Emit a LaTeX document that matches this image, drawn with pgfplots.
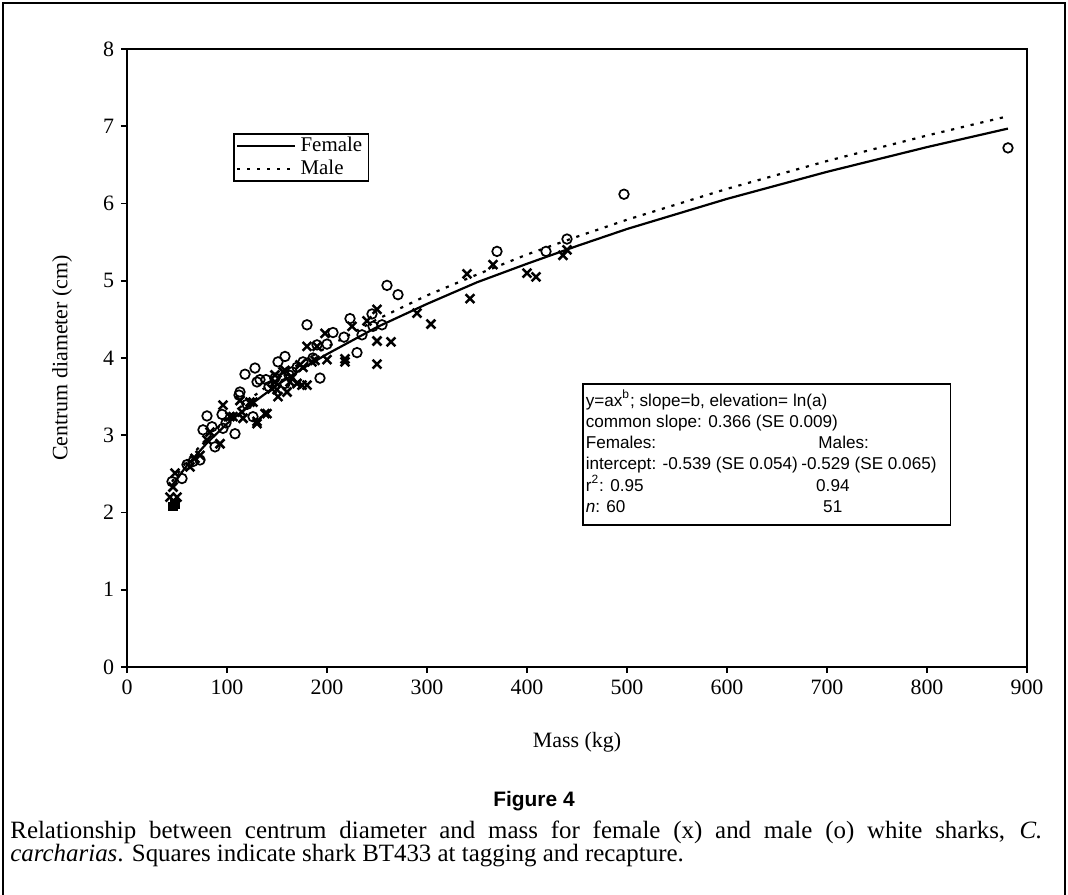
\documentclass[border=0pt]{standalone}
\usepackage{pgfplots}
\pgfplotsset{compat=1.18}
\usepackage{pgfplotstable}
\usepackage{fontspec}
\setmainfont{Liberation Serif}
\setsansfont{Liberation Sans}

\pgfplotstableread{
mass diam
881 6.72
497 6.12
440 5.54
419 5.38
370 5.38
271 4.82
260 4.94
255 4.43
246 4.41
245 4.57
223 4.51
230 4.07
217 4.27
206 4.33
200 4.18
190 4.17
193 3.74
180 4.43
176 3.95
158 4.02
151 3.95
158 3.67
139 3.72
130 3.69
133 3.72
128 3.87
118 3.79
113 3.56
126 3.24
95 3.27
80 3.25
76 3.07
85 3.11
96 3.09
108 3.02
88 2.85
73 2.68
55 2.44
45 2.40
165 3.82
148 3.74
170 3.88
112 3.52
60 2.62
66 2.66
99 3.16
142 3.63
186 4.00
235 4.30
162 3.78
120 3.40
}\males

\pgfplotstableread{
mass diam
440 5.40
436 5.33
409 5.05
400 5.10
366 5.21
343 4.77
340 5.09
304 4.44
290 4.58
264 4.21
250 4.63
250 4.22
250 3.92
240 4.48
225 4.41
218 3.95
218 3.99
198 4.32
190 4.15
180 4.15
188 3.97
173 3.91
176 3.88
180 3.65
170 3.67
175 3.65
163 3.69
156 3.82
158 3.84
148 3.78
148 3.69
150 3.59
151 3.50
160 3.56
140 3.28
130 3.15
130 3.18
138 3.28
126 3.43
123 3.43
115 3.30
113 3.45
116 3.22
106 3.24
103 3.24
96 3.39
93 2.89
83 3.04
80 2.94
73 2.74
68 2.70
63 2.59
48 2.51
46 2.33
43 2.20
50 2.20
165 3.75
185 3.95
200 3.98
145 3.60
}\females

\pgfplotstableread{
mass diam
46 2.08
48 2.11
}\tagged

\pgfplotstableread{
mass diam
45 2.35
60 2.61
80 2.90
100 3.15
125 3.41
150 3.65
175 3.86
200 4.05
250 4.40
300 4.70
350 4.98
400 5.22
450 5.45
500 5.67
600 6.06
700 6.41
800 6.73
881 6.97
}\femalefit

\pgfplotstableread{
mass diam
45 2.40
60 2.67
80 2.96
100 3.22
125 3.49
150 3.73
175 3.95
200 4.14
250 4.50
300 4.81
350 5.08
400 5.34
450 5.57
500 5.79
600 6.19
700 6.55
800 6.88
881 7.13
}\malefit

\begin{document}
\begin{tikzpicture}
\useasboundingbox (0,0) rectangle (534bp,-447.5bp);
\draw[line width=1bp] (1.5bp,-447.5bp) -- (1.5bp,-1.5bp) -- (532.5bp,-1.5bp) -- (532.5bp,-447.5bp);

\begin{axis}[
  at={(63.5bp,-333.5bp)}, anchor=south west,
  scale only axis, width=450bp, height=309bp,
  xmin=0, xmax=900, ymin=0, ymax=8,
  xtick={0,100,...,900}, ytick={0,1,...,8},
  tick align=outside, xtick pos=bottom, ytick pos=left,
  major tick length=3bp,
  axis line style={line width=0.9bp},
  tick style={line width=0.9bp, black},
  /pgf/number format/assume math mode=true,
  tick label style={font=\fontsize{11}{13}\selectfont},
  label style={font=\fontsize{11}{13}\selectfont},
  xlabel={Mass (kg)}, ylabel={Centrum diameter (cm)},
  xlabel style={at={(axis description cs:0.5,-0.122)}, anchor=center},
  ylabel style={at={(axis description cs:-0.072,0.5)}, anchor=center},
  legend style={at={(axis description cs:0.118,0.864)}, anchor=north west,
    draw=black, line width=0.8bp, font=\fontsize{10.5}{11}\selectfont,
    inner xsep=1bp, inner ysep=1bp, row sep=1bp, cells={anchor=west},
    nodes={inner xsep=2.2bp, inner ysep=0.8bp}},
  legend image code/.code={\draw[#1] (0bp,0bp) -- (29bp,0bp);},
]
\addplot[only marks, mark=o, mark size=2.4bp, mark options={line width=0.85bp}, black, forget plot] table[x=mass,y=diam] {\males};
\addplot[only marks, mark=x, mark size=3.1bp, mark options={line width=1.25bp}, black, forget plot] table[x=mass,y=diam] {\females};
\addplot[only marks, mark=square*, mark size=2.1bp, black, forget plot] table[x=mass,y=diam] {\tagged};
\addplot[black, line width=1.1bp] table[x=mass,y=diam] {\femalefit};
\addlegendentry{Female}
\addplot[black, line width=1.1bp, dash pattern=on 1.6bp off 3.4bp] table[x=mass,y=diam] {\malefit};
\addlegendentry{Male}

\node[draw, line width=0.8bp, anchor=north west, inner xsep=1.5bp, inner ysep=3.2bp,
      font=\sffamily\fontsize{8.6}{10.5}\selectfont, fill=white] at (axis cs:455,3.676) {%
\begin{tabular}{@{}l@{\hspace{0.2em}}l@{\hspace{5.5bp}}}
\multicolumn{2}{@{}l}{y=ax\textsuperscript{b}; slope=b, elevation= ln(a)}\\
\multicolumn{2}{@{}l}{common slope: 0.366 (SE 0.009)}\\
Females: & \hspace{1em}Males:\\
intercept: -0.539 (SE 0.054) & -0.529 (SE 0.065)\\
r\textsuperscript{2}: 0.95 & \hspace{0.87em}0.94\\
\textit{n}: 60 & \hspace{1.28em}51
\end{tabular}};
\end{axis}

\node[anchor=base, font=\sffamily\bfseries\fontsize{10.5}{12}\selectfont] at (267bp,-403bp) {Figure 4};
\node[anchor=base west, inner sep=0pt, font=\fontsize{12.5}{12}\selectfont] at (5bp,-419bp)
  {\makebox[516bp][s]{Relationship between centrum diameter and mass for female (x) and male (o) white sharks, \textit{C.}}};
\node[anchor=base west, inner sep=0pt, font=\fontsize{12.5}{12}\selectfont] at (5bp,-430.8bp)
  {\textit{carcharias}. Squares indicate shark BT433 at tagging and recapture.};
\end{tikzpicture}
\end{document}
